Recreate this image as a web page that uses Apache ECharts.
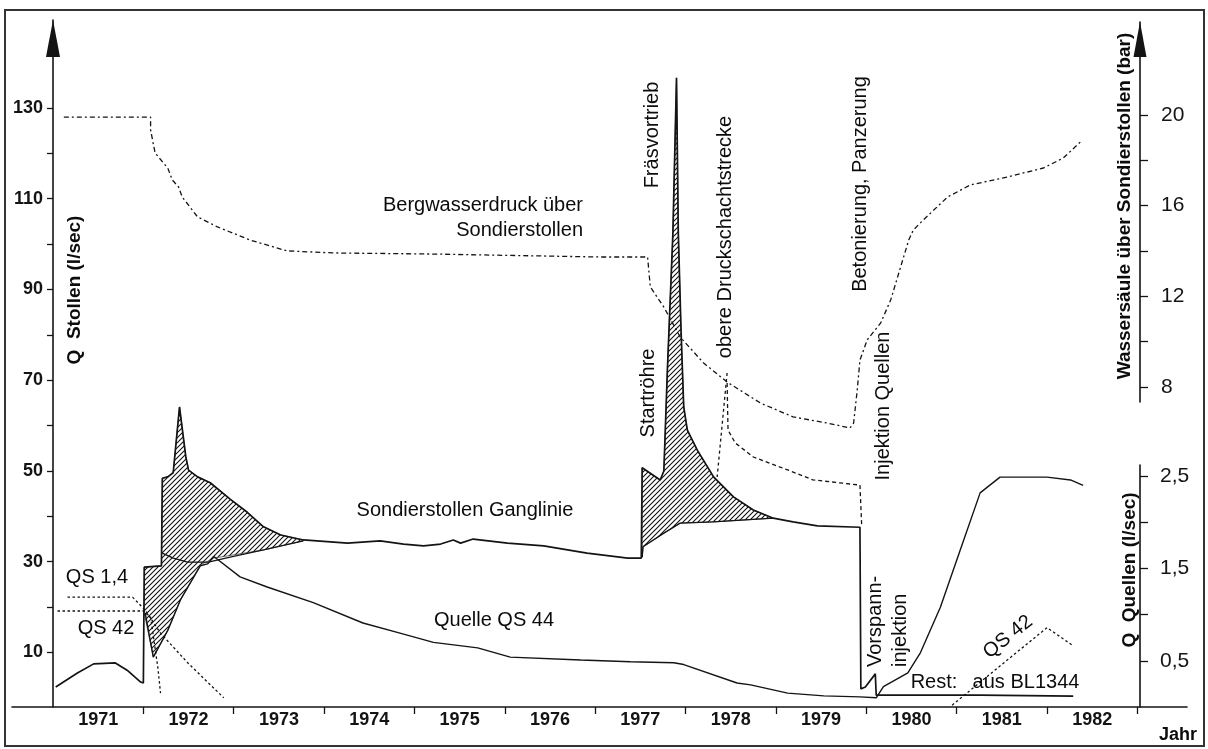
<!DOCTYPE html>
<html><head><meta charset="utf-8">
<script src="https://cdn.jsdelivr.net/npm/echarts@6/dist/echarts.min.js"></script>
<style>html,body{margin:0;padding:0;background:#fff}#c{width:1208px;height:749px}</style>
</head><body><div id="c"></div>
<script>
// ---------- tick / label values ----------
const yearTicks = [1972,1973,1974,1975,1976,1977,1978,1979,1980,1981,1982,1983];
const yearLabelPos = [1971.5,1972.5,1973.5,1974.5,1975.5,1976.5,1977.5,1978.5,1979.5,1980.5,1981.5,1982.5];
const stollenTicks = [10,20,30,40,50,60,70,80,90,100,110,120,130];
const stollenLabels = [10,30,50,70,90,110,130];
const barTicks = [8,10,12,14,16,18,20];
const barLabels = [8,12,16,20];
const quellenTicks = [0.5,1,1.5,2,2.5];
const quellenLabels = [0.5,1.5,2.5];

// ---------- data: [year, value] ----------
// Sondierstollen Ganglinie, Q Stollen (l/sec)
const ganglinie = [
 [1971.03,2.4],[1971.27,5.5],[1971.45,7.5],[1971.69,7.7],[1971.82,6.1],[1971.97,3.5],[1972.00,3.3],
 [1972.01,28.8],[1972.20,29.1],[1972.21,48.4],[1972.27,48.7],[1972.33,49.6],[1972.40,64.1],[1972.47,53.1],
 [1972.50,50.2],[1972.60,48.7],[1972.74,47.4],[1972.96,43.8],[1973.15,40.9],[1973.33,37.7],[1973.52,35.9],
 [1973.77,34.8],[1974.26,34.1],[1974.62,34.6],[1974.88,33.9],[1975.10,33.5],[1975.29,33.9],[1975.43,34.8],
 [1975.51,34.1],[1975.65,35.0],[1976.03,34.1],[1976.43,33.5],[1976.91,31.9],[1977.36,30.8],[1977.51,30.8],
 [1977.52,50.7],[1977.72,48.0],[1977.76,50.0],[1977.80,72.8],[1977.86,102.4],[1977.90,136.6],[1977.92,102.4],
 [1977.95,81.1],[1977.98,64.1],[1978.02,59.0],[1978.13,54.6],[1978.31,48.7],[1978.53,44.3],[1978.75,41.4],
 [1978.97,39.6],[1979.19,38.8],[1979.46,37.9],[1979.93,37.6],[1979.94,2.0],[1979.99,2.4],[1980.10,5.3],
 [1980.11,0.6],[1980.52,0.6],[1981.26,0.6],[1982.29,0.4]
];
// lower edge of hatched area 1972/73 (Q Stollen)
const hatch1Lower = [[1972.01,18.7],[1972.11,9.0],[1972.27,14.9],[1972.41,21.6],[1972.63,29.3],[1972.78,30.8],[1973.33,32.6],[1973.77,34.6]];
// inner base line 1972/73 (Q Stollen)
const baseline1 = [[1972.21,31.9],[1972.33,30.8],[1972.49,29.9],[1972.72,29.9],[1972.96,31.0],[1973.33,32.6],[1973.77,34.6]];
// lower edge of hatched area 1977/78 (Q Stollen)
const baseline2 = [[1977.52,31.0],[1977.53,33.3],[1977.76,36.3],[1977.94,38.5],[1978.31,38.8],[1978.97,39.6]];
// Quelle QS 44, Q Quellen (l/sec)
const qs44 = [
 [1972.02,1.02],[1972.11,0.54],[1972.27,0.83],[1972.41,1.16],[1972.63,1.53],[1972.71,1.55],[1972.78,1.63],
 [1973.07,1.41],[1973.37,1.30],[1973.88,1.13],[1974.43,0.91],[1974.84,0.80],[1975.21,0.70],[1975.70,0.64],
 [1976.06,0.54],[1976.84,0.51],[1977.39,0.49],[1977.87,0.48],[1977.98,0.46],[1978.57,0.26],[1978.72,0.24],
 [1979.13,0.15],[1979.53,0.12],[1979.93,0.11],[1980.11,0.10],[1980.19,0.22],[1980.46,0.37],[1980.60,0.59],
 [1980.82,1.08],[1981.04,1.70],[1981.26,2.32],[1981.48,2.49],[1982.00,2.49],[1982.26,2.46],[1982.40,2.40]
];
// QS 1,4 and QS 42 (Q Quellen l/sec)
const qs14 = [[1971.16,1.19],[1971.88,1.19],[1971.93,1.14],[1972.02,1.05],[1972.19,0.80],[1972.49,0.48],[1972.71,0.27],[1972.89,0.10]];
const qs42a = [[1971.05,1.04],[1972.00,1.04],[1972.08,0.975],[1972.16,0.43],[1972.19,0.15]];
const qs42b = [[1980.95,0.02],[1982.00,0.86],[1982.28,0.67]];
// Bergwasserdruck (bar)
const druck = [
 [1971.12,19.91],[1972.08,19.91],[1972.08,19.34],[1972.13,18.32],[1972.27,17.66],[1972.32,17.13],[1972.39,16.82],
 [1972.43,16.38],[1972.60,15.50],[1972.82,15.06],[1973.18,14.48],[1973.59,14.0],[1974.10,13.91],[1975.21,13.86],
 [1977.06,13.73],[1977.58,13.73],[1977.59,13.29],[1977.61,12.41],[1977.76,11.52],[1977.94,10.20],[1978.20,9.05],
 [1978.46,8.21],[1978.83,7.28],[1979.19,6.67],[1979.57,6.40],[1979.82,6.18],[1979.86,6.40],[1979.90,7.86],
 [1979.93,9.18],[1980.01,10.07],[1980.16,10.82],[1980.27,11.83],[1980.38,13.29],[1980.47,14.48],[1980.52,14.92],
 [1980.63,15.36],[1980.90,16.38],[1981.15,16.91],[1981.56,17.26],[1981.96,17.66],[1982.18,18.10],[1982.37,18.81]
];
const druckA = [[1978.46,8.61],[1978.41,6.53],[1978.35,4.02]];
const druckB = [[1978.46,8.17],[1978.47,6.09],[1978.55,5.52],[1978.75,4.90],[1979.13,4.33],[1979.41,3.89],[1979.93,3.66],[1979.95,1.81]];

// ---------- hatch pattern ----------
const pc = document.createElement('canvas');
pc.width = 5; pc.height = 5;
const g = pc.getContext('2d');
g.strokeStyle = '#111'; g.lineWidth = 1.1;
g.beginPath();
g.moveTo(-1,6); g.lineTo(6,-1);
g.moveTo(-1,1); g.lineTo(1,-1);
g.moveTo(4,6); g.lineTo(6,4);
g.stroke();
const hatchFill = {image: pc, repeat: 'repeat'};

function between(arr, a, b){ return arr.filter(p => p[0] >= a - 1e-9 && p[0] <= b + 1e-9); }
const poly1 = between(ganglinie, 1972.01, 1973.77).concat(hatch1Lower.slice().reverse());
const poly2 = between(ganglinie, 1977.52, 1978.97).concat(baseline2.slice().reverse());

function hatchSeries(poly){
  return {type:'custom', xAxisIndex:0, yAxisIndex:0, z:1, silent:true,
    data:[[1975,50]],
    renderItem:function(params, api){
      return {type:'polygon', shape:{points: poly.map(p => api.coord(p))},
        style:{fill: hatchFill, stroke:'#111', lineWidth:0.6}};
    }};
}

const FONT = '"Liberation Sans", Arial, sans-serif';
const INK = '#141414';
function T(text, x, y, o){
  o = o || {};
  return {type:'text', x:x, y:y, rotation:o.rot||0, z:100,
    style:{text:text, fontSize:o.size||20, fontWeight:o.bold?'bold':'normal', fontFamily:FONT,
      fill:'#0c0c0c', align:o.align||'center', verticalAlign:o.valign||'middle'}};
}
const R90 = Math.PI/2;

const lineBase = {type:'line', showSymbol:false, symbol:'none', silent:true, animation:false};
function L(data, yIdx, style, z){ return Object.assign({}, lineBase, {data:data, xAxisIndex:0, yAxisIndex:yIdx, z:z||3, lineStyle:style}); }

const chart = echarts.init(document.getElementById('c'), null, {renderer:'canvas'});
chart.setOption({
  animation:false,
  backgroundColor:'#fff',
  grid:[
    {left:53, top:20, width:1093.4, height:687},          // data
    {left:12, top:700, width:1175, height:7},             // bottom x axis
    {left:1140, top:22, width:6, height:380},            // upper right axis (bar)
    {left:1140, top:465, width:6, height:242}            // lower right axis (Quellen)
  ],
  xAxis:[
    {gridIndex:0, type:'value', min:1971, max:1983.1, show:false},
    {gridIndex:1, type:'value', min:1970.5463, max:1983.5496, position:'bottom',
      axisLine:{lineStyle:{color:INK, width:1.6}},
      axisTick:{show:true, customValues:yearTicks, length:7, inside:false, lineStyle:{color:INK, width:1.3}},
      axisLabel:{customValues:yearLabelPos, formatter:v=>String(Math.floor(v)), fontSize:18, fontWeight:'bold',
        fontFamily:FONT, color:INK, margin:4},
      splitLine:{show:false}},
    {gridIndex:2, type:'value', min:0, max:1, show:false},
    {gridIndex:3, type:'value', min:0, max:1, show:false}
  ],
  yAxis:[
    {gridIndex:0, type:'value', min:-2, max:149.35, position:'left',
      axisLine:{show:true, symbol:['none','triangle'], symbolSize:[14,37], symbolOffset:[0,-18.5], lineStyle:{color:INK, width:1.6}},
      axisTick:{show:true, customValues:stollenTicks, length:6, lineStyle:{color:INK, width:1.3}},
      axisLabel:{customValues:stollenLabels, fontSize:18, fontWeight:'bold', fontFamily:FONT, color:INK, margin:10},
      splitLine:{show:false}},
    {gridIndex:0, type:'value', min:0, max:7.443, show:false},
    {gridIndex:0, type:'value', min:-6.137, max:24.194, show:false},
    {gridIndex:1, type:'value', min:0, max:1, show:false},
    {gridIndex:2, type:'value', min:7.329, max:24.106, position:'right',
      axisLine:{show:true, symbol:['none','triangle'], symbolSize:[13,35], symbolOffset:[0,-17.5], lineStyle:{color:INK, width:1.6}},
      axisTick:{show:true, customValues:barTicks, length:8, lineStyle:{color:INK, width:1.3}},
      axisLabel:{customValues:barLabels, fontSize:21, fontFamily:FONT, color:INK, margin:15},
      splitLine:{show:false}},
    {gridIndex:3, type:'value', min:0, max:2.622, position:'right',
      axisLine:{show:true, lineStyle:{color:INK, width:1.6}},
      axisTick:{show:true, customValues:quellenTicks, length:8, lineStyle:{color:INK, width:1.3}},
      axisLabel:{customValues:quellenLabels, formatter:v=>String(v).replace('.',','), fontSize:21, fontFamily:FONT, color:INK, margin:14},
      splitLine:{show:false}}
  ],
  series:[
    hatchSeries(poly1),
    hatchSeries(poly2),
    L(ganglinie, 0, {color:INK, width:1.7}, 4),
    L(baseline1, 0, {color:INK, width:1.3}),
    L(baseline2, 0, {color:INK, width:1.3}),
    L(qs44, 1, {color:INK, width:1.4}),
    L(qs14, 1, {color:INK, width:1.3, type:[2.5,2.5]}),
    L(qs42a, 1, {color:INK, width:1.3, type:[2.5,2.5]}),
    L(qs42b, 1, {color:INK, width:1.3, type:[2.5,2.5]}),
    L(druck, 2, {color:INK, width:1.3, type:[5,3,2,3]}),
    L(druckA, 2, {color:INK, width:1.3, type:[3,3]}),
    L(druckB, 2, {color:INK, width:1.3, type:[4,3]})
  ],
  graphic:[
    {type:'rect', shape:{x:5, y:10, width:1199, height:736}, style:{fill:'none', stroke:'#333', lineWidth:2}, z:0},
    T('Q  Stollen (l/sec)', 75, 290, {rot:R90, bold:true, size:19}),
    T('Wassersäule über Sondierstollen (bar)', 1125, 206, {rot:R90, bold:true, size:19}),
    T('Q  Quellen (l/sec)', 1130, 570, {rot:R90, bold:true, size:19}),
    T('Bergwasserdruck über', 583, 205, {align:'right'}),
    T('Sondierstollen', 583, 230, {align:'right'}),
    T('Sondierstollen Ganglinie', 465, 510),
    T('Quelle QS 44', 494, 620),
    T('QS 1,4', 97, 577),
    T('QS 42', 106, 628),
    T('Startröhre', 648, 393, {rot:R90}),
    T('Fräsvortrieb', 652, 135, {rot:R90}),
    T('obere Druckschachtstrecke', 725, 237, {rot:R90}),
    T('Betonierung, Panzerung', 860, 184, {rot:R90}),
    T('Injektion Quellen', 883, 406, {rot:R90}),
    T('Vorspann-', 875, 667, {rot:R90, align:'left'}),
    T('injektion', 900, 667, {rot:R90, align:'left'}),
    T('Rest:', 934, 682),
    T('aus BL1344', 1026, 682),
    T('QS 42', 1008, 637, {rot:0.675}),
    T('Jahr', 1178, 735, {bold:true, size:18})
  ]
});
</script>
</body></html>
